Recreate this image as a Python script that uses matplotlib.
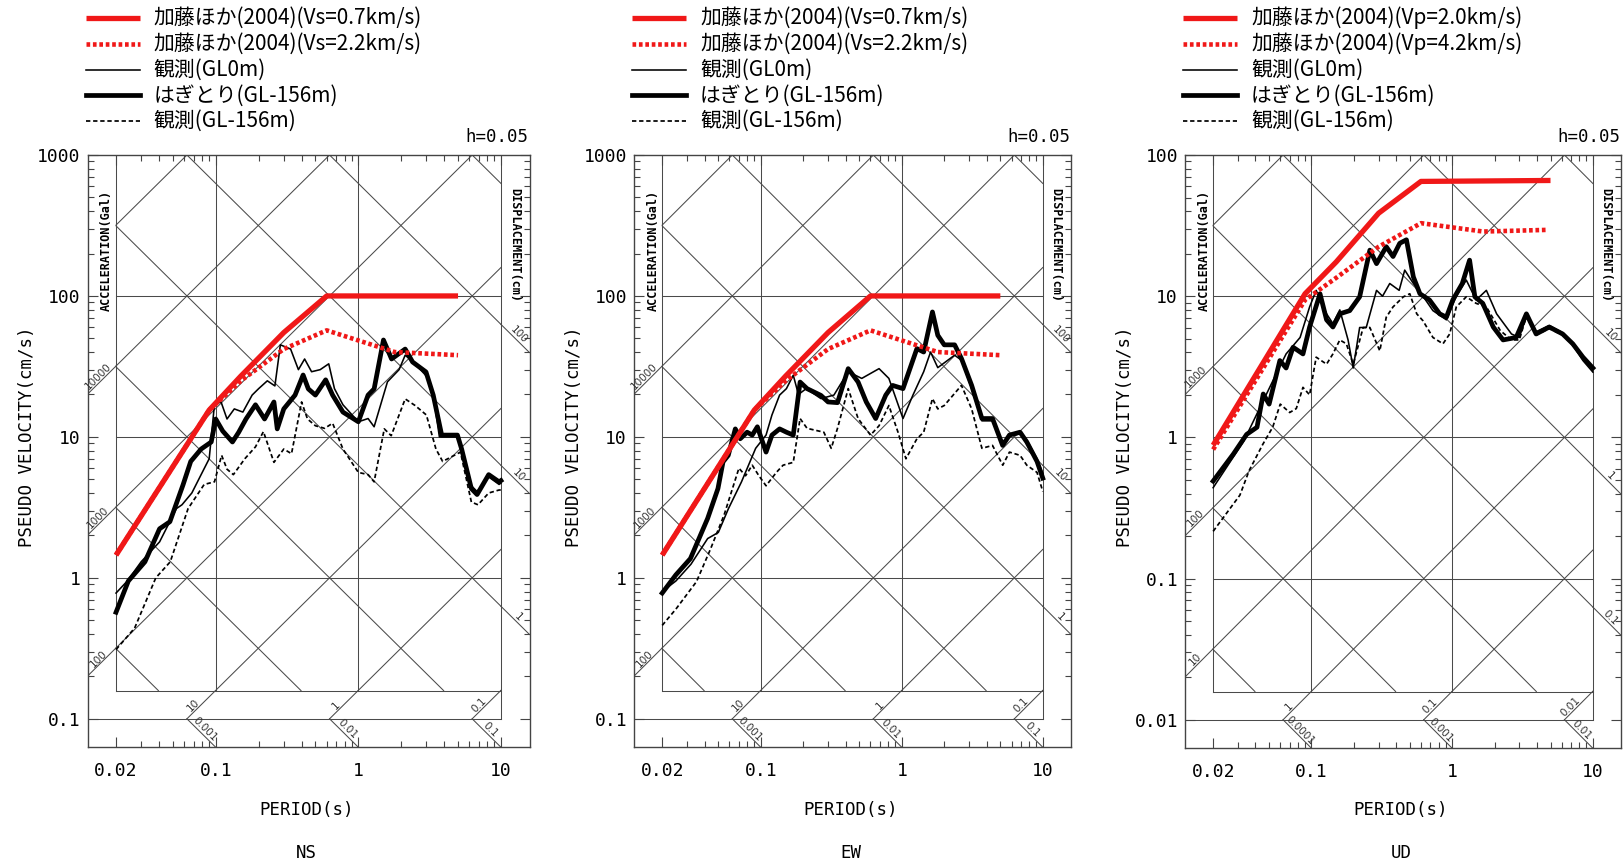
import numpy as np
import matplotlib
matplotlib.use("Agg")
import matplotlib.pyplot as plt
from matplotlib.lines import Line2D
from matplotlib.ticker import FixedLocator, FixedFormatter, NullFormatter

plt.rcParams['font.family'] = ['DejaVu Sans Mono']

# ---------------------------------------------------------------- data
PANEL_NAMES = ["NS", "EW", "UD"]

LEGEND_H = ["加藤ほか(2004)(Vs=0.7km/s)", "加藤ほか(2004)(Vs=2.2km/s)",
            "観測(GL0m)", "はぎとり(GL-156m)", "観測(GL-156m)"]
LEGEND_V = ["加藤ほか(2004)(Vp=2.0km/s)", "加藤ほか(2004)(Vp=4.2km/s)",
            "観測(GL0m)", "はぎとり(GL-156m)", "観測(GL-156m)"]

# Kato et al. (2004) spectra, horizontal
KATO_H1_T = [0.02, 0.09, 0.15, 0.3, 0.6, 5.0]
KATO_H1_V = [1.45, 15.5, 27.0, 55.0, 100.0, 100.0]
KATO_H2_T = [0.02, 0.09, 0.15, 0.3, 0.6, 1.8, 5.0]
KATO_H2_V = [1.45, 15.5, 25.0, 42.0, 57.0, 40.0, 38.0]
# Kato et al. (2004) spectra, vertical
KATO_V1_T = [0.02, 0.09, 0.15, 0.3, 0.6, 5.0]
KATO_V1_V = [0.88, 10.4, 17.5, 38.7, 65.0, 66.0]
KATO_V2_T = [0.02, 0.09, 0.15, 0.3, 0.6, 1.66, 4.8]
KATO_V2_V = [0.82, 9.4, 13.5, 22.4, 32.9, 28.7, 29.5]

# NS
NS_OBS0_T = [0.02, 0.024, 0.03, 0.0404, 0.053, 0.058, 0.068, 0.079, 0.09, 0.098, 0.109, 0.12,
             0.135, 0.155, 0.18, 0.2, 0.23, 0.26, 0.284, 0.335, 0.38, 0.42, 0.47, 0.54, 0.62,
             0.68, 0.78, 1.0, 1.17, 1.29, 1.6, 1.93, 2.13, 2.5, 3.0, 3.35, 3.7, 5.0, 5.3, 6.2,
             6.8, 8.2, 9.7, 10.0]
NS_OBS0_V = [0.78, 0.95, 1.3, 1.8, 3.1, 3.3, 4.0, 5.4, 7.0, 17.0, 17.7, 13.4,
             15.8, 15.0, 19.8, 22.0, 25.0, 23.0, 45.0, 42.0, 30.0, 35.7, 29.0, 30.0, 33.0,
             22.0, 16.9, 12.8, 13.5, 11.8, 24.6, 30.0, 38.0, 33.0, 27.0, 20.0, 10.0, 10.0, 8.4, 4.5,
             4.1, 5.2, 4.6, 4.7]
NS_HAGI_T = [0.02, 0.0244, 0.0319, 0.0404, 0.0477, 0.059, 0.0668, 0.079, 0.093, 0.1, 0.112,
             0.131, 0.145, 0.163, 0.19, 0.22, 0.256, 0.27, 0.3, 0.36, 0.41, 0.446, 0.5, 0.59,
             0.66, 0.78, 1.0, 1.17, 1.29, 1.5, 1.71, 2.13, 2.4, 2.98, 3.35, 3.84, 4.95, 5.3,
             6.2, 6.8, 8.2, 9.7, 10.0]
NS_HAGI_V = [0.57, 0.95, 1.3, 2.23, 2.5, 4.57, 6.7, 8.2, 9.2, 13.4, 11.0,
             9.2, 10.8, 13.4, 16.9, 13.4, 17.7, 11.4, 15.8, 19.8, 27.5, 21.9, 19.8, 25.4,
             19.8, 15.0, 12.8, 19.8, 21.9, 48.7, 35.7, 42.0, 34.0, 28.9, 19.8, 10.3, 10.3, 8.2,
             4.3, 3.9, 5.4, 4.8, 4.9]
NS_OBS156_T = [0.02, 0.027, 0.038, 0.048, 0.064, 0.083, 0.098, 0.11, 0.12, 0.133, 0.16, 0.19,
               0.216, 0.256, 0.3, 0.34, 0.4, 0.44, 0.5, 0.58, 0.66, 0.78, 1.0, 1.17, 1.29, 1.52,
               1.7, 2.13, 2.5, 3.0, 3.5, 3.9, 5.2, 6.2, 6.9, 8.2, 9.7, 10.0]
NS_OBS156_V = [0.31, 0.44, 1.0, 1.3, 3.1, 4.6, 4.8, 7.4, 5.9, 5.4, 7.0, 8.5,
               10.9, 6.6, 8.2, 7.6, 17.7, 13.4, 12.0, 11.5, 12.5, 8.2, 5.6, 5.4, 4.8, 11.4,
               10.2, 18.6, 16.7, 14.3, 8.2, 6.7, 7.8, 3.45, 3.3, 4.0, 4.2, 4.2]

# EW
EW_OBS0_T = [0.02, 0.025, 0.032, 0.042, 0.05, 0.059, 0.073, 0.092, 0.109, 0.12, 0.136, 0.152,
             0.17, 0.185, 0.21, 0.267, 0.33, 0.417, 0.52, 0.69, 0.81, 1.02, 1.2, 1.43, 1.6, 1.8,
             2.37, 2.65, 3.13, 3.7, 4.4, 5.19, 5.8, 6.9, 7.7, 9.1, 10.0]
EW_OBS0_V = [0.8, 0.95, 1.25, 1.9, 2.1, 3.1, 4.8, 8.3, 10.3, 14.3, 19.8, 22.0,
             27.4, 20.0, 22.0, 18.7, 19.8, 29.0, 26.0, 30.5, 26.0, 13.5, 19.8, 29.0, 40.0, 31.0,
             38.0, 35.0, 22.0, 13.0, 13.0, 9.2, 10.2, 10.5, 9.5, 7.0, 5.5]
EW_HAGI_T = [0.02, 0.025, 0.0317, 0.042, 0.0497, 0.054, 0.0588, 0.066, 0.0715, 0.08, 0.087,
             0.0946, 0.103, 0.109, 0.12, 0.136, 0.152, 0.17, 0.19, 0.213, 0.267, 0.3, 0.35,
             0.417, 0.49, 0.56, 0.653, 0.77, 0.86, 1.02, 1.28, 1.43, 1.65, 1.8, 2.0, 2.37,
             2.65, 3.13, 3.7, 4.4, 5.19, 5.8, 6.9, 7.7, 9.1, 10.0]
EW_HAGI_V = [0.78, 1.05, 1.37, 2.64, 4.3, 6.65, 7.4, 11.4, 9.7, 10.8, 10.3,
             11.8, 9.2, 7.8, 10.3, 11.4, 10.8, 10.3, 24.5, 22.0, 19.7, 17.7, 17.5,
             30.5, 24.5, 17.7, 13.5, 19.8, 23.2, 22.0, 42.3, 40.0, 77.0, 52.6, 45.0, 45.0,
             36.0, 23.2, 13.5, 13.5, 8.7, 10.3, 10.8, 9.2, 6.7, 5.1]
EW_OBS156_T = [0.02, 0.025, 0.035, 0.044, 0.055, 0.07, 0.078, 0.087, 0.097, 0.109, 0.129, 0.144,
               0.17, 0.19, 0.213, 0.28, 0.316, 0.35, 0.417, 0.49, 0.6, 0.69, 0.81, 0.94, 1.07,
               1.28, 1.43, 1.65, 1.8, 2.0, 2.65, 3.13, 3.7, 4.4, 5.2, 5.8, 6.9, 7.7, 9.1, 10.0]
EW_OBS156_V = [0.46, 0.6, 0.94, 1.6, 2.8, 6.0, 5.3, 6.3, 5.3, 4.5, 5.6, 6.3,
               6.6, 13.5, 11.5, 10.8, 8.3, 11.5, 22.0, 13.5, 10.3, 12.0, 16.7, 10.8, 7.0,
               9.7, 10.8, 18.7, 15.8, 16.7, 23.2, 15.8, 8.3, 8.7, 6.3, 7.8, 7.4, 6.3, 5.6, 4.1]

# UD
UD_OBS0_T = [0.02, 0.033, 0.053, 0.066, 0.083, 0.097, 0.108, 0.128, 0.142, 0.159, 0.182, 0.198,
             0.22, 0.245, 0.29, 0.32, 0.36, 0.42, 0.46, 0.53, 0.62, 0.73, 0.91, 1.07, 1.26, 1.48,
             1.75, 2.07, 2.64, 3.0, 3.37, 3.95, 4.9, 6.1, 7.2, 8.5, 10.0]
UD_OBS0_V = [0.44, 0.94, 2.5, 3.9, 5.1, 8.4, 11.0, 7.5, 6.4, 8.0, 4.9, 3.1,
             6.0, 6.0, 11.0, 10.0, 12.3, 11.0, 15.3, 12.3, 10.0, 7.9, 6.8, 10.0, 13.0, 9.4,
             11.0, 7.5, 5.4, 5.1, 7.2, 5.6, 6.2, 5.5, 4.5, 3.5, 2.9]
UD_HAGI_T = [0.02, 0.0278, 0.0346, 0.041, 0.0454, 0.05, 0.0596, 0.066, 0.074, 0.087, 0.097,
             0.115, 0.128, 0.142, 0.159, 0.187, 0.22, 0.26, 0.29, 0.34, 0.38, 0.424, 0.473,
             0.53, 0.59, 0.69, 0.815, 0.91, 1.01, 1.18, 1.33, 1.45, 1.65, 1.96, 2.3, 2.85,
             3.37, 3.95, 4.9, 6.1, 7.2, 8.5, 10.0]
UD_HAGI_V = [0.49, 0.76, 1.05, 1.18, 2.03, 1.72, 3.5, 3.1, 4.35, 3.9, 6.05,
             10.4, 6.8, 6.05, 7.5, 7.9, 9.9, 21.2, 17.0, 22.4, 19.1, 23.7, 25.1,
             13.7, 10.4, 9.4, 7.5, 7.1, 9.4, 12.3, 18.0, 9.9, 8.9, 6.05, 4.9, 5.1,
             7.5, 5.4, 6.05, 5.4, 4.6, 3.7, 3.1]
UD_OBS156_T = [0.02, 0.031, 0.036, 0.045, 0.053, 0.06, 0.07, 0.078, 0.087, 0.097, 0.108, 0.128,
               0.142, 0.159, 0.177, 0.198, 0.233, 0.26, 0.306, 0.34, 0.38, 0.45, 0.5, 0.56, 0.62,
               0.73, 0.86, 0.96, 1.07, 1.26, 1.48, 1.75, 2.2, 2.64, 3.0, 3.37, 3.95, 4.9, 6.1,
               7.2, 8.5, 10.0]
UD_OBS156_V = [0.216, 0.39, 0.58, 0.89, 1.18, 1.72, 1.5, 1.6, 2.26, 2.0, 3.7, 3.3,
               3.9, 4.9, 4.6, 3.3, 6.0, 6.0, 4.1, 7.1, 8.4, 9.9, 10.4, 7.5, 6.7,
               5.1, 4.6, 5.4, 8.4, 9.9, 8.9, 8.4, 5.7, 4.9, 4.9, 7.2, 5.3, 5.9, 5.3,
               4.5, 3.6, 3.0]

SERIES = [
    [(KATO_H1_T, KATO_H1_V), (KATO_H2_T, KATO_H2_V), (NS_OBS0_T, NS_OBS0_V),
     (NS_HAGI_T, NS_HAGI_V), (NS_OBS156_T, NS_OBS156_V)],
    [(KATO_H1_T, KATO_H1_V), (KATO_H2_T, KATO_H2_V), (EW_OBS0_T, EW_OBS0_V),
     (EW_HAGI_T, EW_HAGI_V), (EW_OBS156_T, EW_OBS156_V)],
    [(KATO_V1_T, KATO_V1_V), (KATO_V2_T, KATO_V2_V), (UD_OBS0_T, UD_OBS0_V),
     (UD_HAGI_T, UD_HAGI_V), (UD_OBS156_T, UD_OBS156_V)],
]
LEGENDS = [LEGEND_H, LEGEND_H, LEGEND_V]

# axis / grid annotation values
X_TICKS = [0.02, 0.1, 1, 10]
X_TICK_LABELS = ["0.02", "0.1", "1", "10"]
V_LOW = [0.1, 0.1, 0.01]
V_TOP = [1000, 1000, 100]
ACC_LEFT = [[100, 1000, 10000], [100, 1000, 10000], [10, 100, 1000]]
DISP_RIGHT = [[100, 10, 1], [100, 10, 1], [10, 1, 0.1]]
ACC_BOTTOM = [[10, 1, 0.1], [10, 1, 0.1], [1, 0.1, 0.01]]
DISP_BOTTOM = [[0.001, 0.01, 0.1], [0.001, 0.01, 0.1], [0.0001, 0.001, 0.01]]

# ---------------------------------------------------------------- layout
W, H = 1623, 865
GEOM = [(87.5, 529.5, 155, 747), (634, 1071, 155, 747), (1185, 1621, 155, 748)]  # px
M = 10 ** 0.2
GRID_C = "#4a4a4a"
RED = "#f01818"

STYLES = [
    dict(color=RED, lw=3.8, ls="-", solid_capstyle="butt", zorder=6),
    dict(color=RED, lw=3.3, ls=(0, (0.8, 0.6)), dash_capstyle="butt", zorder=5),
    dict(color="black", lw=1.15, ls="-", zorder=3),
    dict(color="black", lw=3.4, ls="-", zorder=4, solid_joinstyle="round"),
    dict(color="black", lw=1.25, ls=(0, (2.5, 1.6)), zorder=3),
]


def fmt(v):
    return np.format_float_positional(float(v), trim="-")


fig = plt.figure(figsize=(W / 100, H / 100), dpi=100)
TWO_PI = 2 * np.pi
LAB_FONT = dict(family="DejaVu Sans", fontsize=7.5, color="#333333")

for p in range(3):
    x0, x1, yt, yb = GEOM[p]
    ax = fig.add_axes([x0 / W, 1 - yb / H, (x1 - x0) / W, (yb - yt) / H])
    ax.set_xscale("log")
    ax.set_yscale("log")
    vlow, vtop = V_LOW[p], V_TOP[p]
    ax.set_xlim(0.02 / M, 10 * M)
    ax.set_ylim(vlow / M, vtop)
    for s in ax.spines.values():
        s.set_color("#444444")
        s.set_linewidth(1.0)

    def seg(t1, v1, t2, v2):
        ax.plot([t1, t2], [v1, v2], color=GRID_C, lw=0.75, zorder=1)

    vin = vlow * M
    uL, uR = np.log10(0.02), 1.0
    vB, vT = np.log10(vin), np.log10(vtop)
    # horizontal lines
    for k in range(1, int(round(np.log10(vtop / vlow)))):
        seg(0.02, vlow * 10 ** k, 10, vlow * 10 ** k)
    seg(0.02 / M, vlow, 10, vlow)
    seg(0.02, vin, 10, vin)
    # vertical lines
    for t in [0.02, 0.1, 1]:
        seg(t, vin, t, vtop)
    seg(10, vlow, 10, vtop)
    # acceleration lines (slope +1)
    for A in 10.0 ** np.arange(-4, 9):
        c = np.log10(A / TWO_PI)
        ua, ub = max(uL, vB - c), min(uR, vT - c)
        if ub > ua:
            seg(10 ** ua, 10 ** (ua + c), 10 ** ub, 10 ** (ub + c))
    # displacement lines (slope -1)
    for D in 10.0 ** np.arange(-7, 6):
        d = np.log10(TWO_PI * D)
        ua, ub = max(uL, d - vT), min(uR, d - vB)
        if ub > ua:
            seg(10 ** ua, 10 ** (d - ua), 10 ** ub, 10 ** (d - ub))
    # left acceleration extensions + labels
    for A in ACC_LEFT[p]:
        t1, t2 = 0.02 / M, 0.02
        seg(t1, t1 * A / TWO_PI, t2, t2 * A / TWO_PI)
        tm = 0.02 / 10 ** 0.1
        ax.text(tm, tm * A / TWO_PI, fmt(A), rotation=45, rotation_mode="anchor",
                ha="center", va="bottom", **LAB_FONT)
    # right displacement extensions + labels
    for D in DISP_RIGHT[p]:
        t1, t2 = 10, 10 * M
        seg(t1, TWO_PI * D / t1, t2, TWO_PI * D / t2)
        tm = 10 * 10 ** 0.1
        ax.text(tm, TWO_PI * D / tm, fmt(D), rotation=-45, rotation_mode="anchor",
                ha="center", va="bottom", **LAB_FONT)
    # bottom label leaders
    for A, D in zip(ACC_BOTTOM[p], DISP_BOTTOM[p]):
        tk = TWO_PI * vlow / A
        seg(tk, vlow, tk * M, vlow * M)
        seg(tk, vlow, tk * M, vlow / M)
        ta = tk * 10 ** 0.07
        ax.text(ta, ta * A / TWO_PI, fmt(A), rotation=45, rotation_mode="anchor",
                ha="center", va="bottom", **LAB_FONT)
        td = tk * 10 ** 0.1
        ax.text(td, TWO_PI * D / td, fmt(D), rotation=-45, rotation_mode="anchor",
                ha="center", va="bottom", **LAB_FONT)

    # data
    for (tt, vv), st in zip(SERIES[p], STYLES):
        ax.plot(tt, vv, **st)

    # ticks
    ax.xaxis.set_major_locator(FixedLocator(X_TICKS))
    ax.xaxis.set_major_formatter(FixedFormatter(X_TICK_LABELS))
    xm = [m * 10.0 ** e for e in (-2, -1, 0) for m in range(2, 10) if m * 10.0 ** e > 0.02]
    ax.xaxis.set_minor_locator(FixedLocator(xm))
    ax.xaxis.set_minor_formatter(NullFormatter())
    yt_vals = [vlow * 10 ** k for k in range(int(round(np.log10(vtop / vlow))) + 1)]
    ax.yaxis.set_major_locator(FixedLocator(yt_vals))
    ax.yaxis.set_major_formatter(FixedFormatter([fmt(v) for v in yt_vals]))
    ym = [m * v for v in yt_vals[:-1] for m in range(2, 10)]
    ax.yaxis.set_minor_locator(FixedLocator(ym))
    ax.yaxis.set_minor_formatter(NullFormatter())
    ax.tick_params(which="both", direction="in", top=True, right=True,
                   color="#444444", width=0.8, labelsize=13)
    ax.tick_params(which="major", length=7)
    ax.tick_params(which="minor", length=4.5)
    ax.tick_params(axis="x", which="major", pad=11)
    ax.tick_params(axis="y", which="major", pad=5)

    # texts
    cx = (x0 + x1) / 2 - 2
    fig.text((x0 - 60) / W, 1 - 437 / H, "PSEUDO VELOCITY(cm/s)", rotation=90,
             ha="center", va="center", fontsize=12.5)
    fig.text(cx / W, 1 - 810 / H, "PERIOD(s)", ha="center", va="center", fontsize=12.5)
    fig.text(cx / W, 1 - 853 / H, PANEL_NAMES[p], ha="center", va="center", fontsize=12.5)
    fig.text((x1 - 1) / W, 1 - 137 / H, "h=0.05", ha="right", va="center", fontsize=12.5)
    fig.text((x0 + 19) / W, 1 - 250 / H, "ACCELERATION(Gal)", rotation=90,
             ha="center", va="center", fontsize=8.5, fontweight="bold")
    fig.text((x1 - 15) / W, 1 - 245 / H, "DISPLACEMENT(cm)", rotation=-90,
             ha="center", va="center", fontsize=8.5, fontweight="bold")

    # legend
    for i, (lab, st) in enumerate(zip(LEGENDS[p], STYLES)):
        yy = 1 - (18 + 25.8 * i) / H
        kw = {k: v for k, v in st.items() if k != "zorder"}
        fig.add_artist(Line2D([(x0 - 2) / W, (x0 + 52) / W], [yy, yy],
                              transform=fig.transFigure, **kw))
        fig.text((x0 + 66) / W, yy, lab, ha="left", va="center", fontsize=15,
                 family=["Noto Sans CJK JP", "DejaVu Sans"])

fig.savefig("out.png", dpi=100, facecolor="white")
